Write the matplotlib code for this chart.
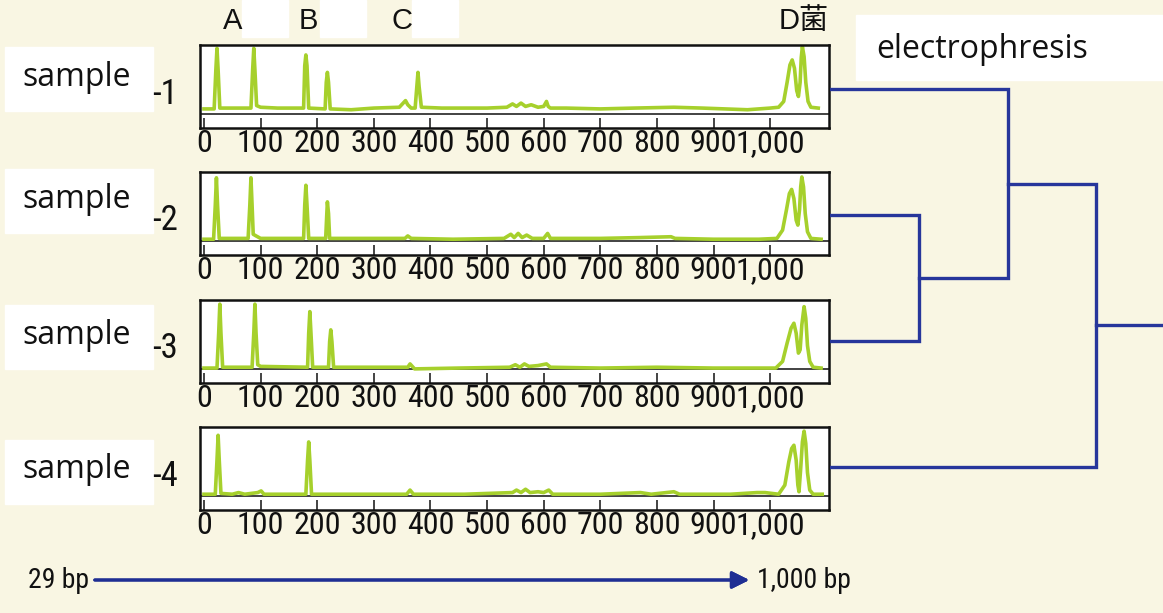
import numpy as np
import matplotlib
matplotlib.use("Agg")
import matplotlib.pyplot as plt
from matplotlib.patches import Rectangle
from matplotlib import font_manager

# electropherogram traces: (size in bp, signal 0..1 of panel height)
sample1_trace = [(0, .23), (18, .23), (21, .7), (23, .96), (25, .7), (28, .24), (60, .24),
                 (83, .24), (86, .7), (88, .96), (90, .7), (93, .27), (100, .25), (130, .24),
                 (176, .24), (178, .75), (180, .88), (182, .75), (185, .24), (214, .23),
                 (216, .55), (218, .67), (220, .55), (223, .23), (260, .22), (300, .24),
                 (345, .25), (356, .33), (360, .28), (366, .24), (373, .24), (376, .5),
                 (378, .67), (380, .5), (384, .25), (420, .24), (500, .24), (535, .25),
                 (545, .29), (552, .26), (560, .30), (568, .26), (578, .28), (590, .25),
                 (600, .26), (605, .32), (608, .26), (612, .24), (640, .24), (700, .23),
                 (760, .24), (830, .25), (880, .24), (960, .22), (1000, .24), (1015, .25),
                 (1024, .32), (1030, .55), (1035, .76), (1039, .82), (1043, .72), (1047, .45),
                 (1050, .38), (1053, .55), (1055, .85), (1057, .98), (1060, .86), (1063, .55),
                 (1067, .32), (1072, .25), (1085, .24)]
sample2_trace = [(0, .19), (17, .19), (20, .6), (22, .93), (24, .6), (27, .2), (78, .2),
                 (81, .6), (83, .93), (85, .6), (87, .25), (92, .23), (100, .2), (176, .2),
                 (178, .6), (180, .84), (182, .6), (185, .2), (215, .2), (217, .5),
                 (218, .64), (220, .5), (222, .2), (300, .2), (355, .2), (360, .23),
                 (366, .2), (440, .19), (530, .2), (542, .25), (548, .21), (555, .26),
                 (562, .21), (570, .24), (580, .2), (600, .2), (607, .26), (612, .2),
                 (700, .2), (770, .21), (825, .22), (832, .2), (900, .19), (980, .19),
                 (1012, .2), (1022, .3), (1029, .55), (1034, .74), (1038, .79), (1042, .68),
                 (1046, .42), (1049, .36), (1052, .55), (1054, .82), (1056, .94), (1059, .82),
                 (1062, .5), (1066, .28), (1072, .2), (1090, .19)]
sample3_trace = [(0, .18), (23, .18), (26, .6), (28, .95), (30, .6), (33, .19), (85, .19),
                 (88, .6), (90, .95), (92, .6), (95, .22), (100, .2), (183, .19), (185, .6),
                 (187, .86), (189, .6), (192, .19), (220, .19), (222, .5), (224, .64),
                 (226, .5), (229, .19), (300, .19), (360, .19), (364, .23), (372, .17),
                 (450, .18), (540, .19), (550, .22), (558, .19), (566, .23), (574, .2),
                 (590, .21), (605, .23), (612, .19), (700, .18), (800, .19), (900, .18),
                 (1010, .18), (1022, .26), (1030, .48), (1037, .66), (1042, .72), (1046, .6),
                 (1050, .36), (1053, .4), (1056, .7), (1060, .92), (1063, .78), (1066, .45),
                 (1070, .26), (1076, .19), (1090, .18)]
sample4_trace = [(0, .19), (20, .19), (23, .6), (25, .9), (27, .6), (30, .2), (50, .19),
                 (61, .21), (72, .19), (95, .21), (101, .23), (106, .19), (180, .19),
                 (183, .6), (185, .82), (187, .6), (190, .19), (300, .19), (358, .19),
                 (364, .24), (370, .19), (460, .19), (545, .21), (552, .24), (560, .21),
                 (568, .25), (576, .21), (590, .22), (600, .21), (609, .24), (616, .19),
                 (700, .19), (771, .21), (790, .19), (830, .22), (840, .19), (930, .19),
                 (977, .21), (991, .21), (1015, .19), (1026, .3), (1033, .58), (1038, .74),
                 (1042, .78), (1046, .6), (1049, .3), (1051, .22), (1054, .5), (1057, .82),
                 (1060, .95), (1063, .8), (1066, .45), (1070, .24), (1076, .19), (1092, .19)]
traces = [sample1_trace, sample2_trace, sample3_trace, sample4_trace]
sample_names = ["-1", "-2", "-3", "-4"]

tick_bp = [0, 100, 200, 300, 400, 500, 600, 700, 800, 900, 1000]
tick_labels = ["0", "100", "200", "300", "400", "500", "600", "700", "800", "900", "1,000"]
header_labels = ["A", "B", "C", "D菌"]

# dendrogram: leaves top to bottom, merges as (left node, right node, height)
merges = [(1, 2, 1.0), (0, 4, 2.0), (3, 5, 3.0)]

W, H = 1163, 613
BG = "#f9f6e3"
GREEN = "#a6d02c"
BLUE = "#27369b"

# pick a condensed face for the numbers if one is installed
installed = {(f.name, f.stretch) for f in font_manager.fontManager.ttflist}
names = {n for n, _ in installed}
narrow = dict(family=["Liberation Sans"])
size_tick, size_name, size_bp = 17, 20, 17
if "Roboto Condensed" in names:
    narrow = dict(family=["Roboto Condensed"])
    size_tick, size_name, size_bp = 23, 25, 20
elif "Liberation Sans Narrow" in names:
    narrow = dict(family=["Liberation Sans Narrow"])
    size_tick, size_name, size_bp = 22, 24, 20


def rect(x0, y0, x1, y1):
    return [x0 / W, 1 - y1 / H, (x1 - x0) / W, (y1 - y0) / H]


fig = plt.figure(figsize=(W / 100, H / 100), dpi=100, facecolor=BG)

panel_tops = [45, 172, 300, 427]
for top, trace, name in zip(panel_tops, traces, sample_names):
    ax = fig.add_axes(rect(200, top, 829, top + 83))
    ax.set_facecolor("white")
    bp, sig = np.array(trace).T
    ax.plot(bp, sig, color=GREEN, lw=2.6, solid_joinstyle="round")
    ax.axhline(0.17, color="#222222", lw=1.2, zorder=0)
    ax.set_xlim(-7, 1104)
    ax.set_ylim(0, 1)
    ax.set_yticks([])
    ax.set_xticks(tick_bp)
    ax.set_xticklabels(tick_labels, color="#111111", fontsize=size_tick, **narrow)
    ax.tick_params(axis="x", direction="in", length=7, width=1.1, pad=1, colors="#111111")
    for s in ax.spines.values():
        s.set_linewidth(1.8)
        s.set_color("#111111")
    fig.text(178 / W, 1 - (top + 49) / H, name, ha="right", va="center",
             color="#111111", fontsize=size_name, **narrow)

# white label boxes
for y0 in [47, 169, 305, 440]:
    fig.patches.append(Rectangle((5 / W, 1 - (y0 + 64) / H), 148 / W, 64 / H,
                                 transform=fig.transFigure, color="white", zorder=1))
    fig.text(77 / W, 1 - (y0 + 30) / H, "sample", ha="center", va="center",
             family="Open Sans", fontsize=23, color="#111111", zorder=2)

for x0 in [242, 320, 412]:
    fig.patches.append(Rectangle((x0 / W, 1 - 37 / H), 46 / W, 37 / H,
                                 transform=fig.transFigure, color="white", zorder=1))
fig.patches.append(Rectangle((856 / W, 1 - 80 / H), 307 / W, 65 / H,
                             transform=fig.transFigure, color="white", zorder=1))
fig.text(876 / W, 1 - 50 / H, "electrophresis", ha="left", va="center",
         family="Open Sans", fontsize=23, color="#111111", zorder=2)

for x, lab in zip([233, 308, 402, 829], header_labels):
    fig.text(x / W, 1 - 21 / H, lab, ha="right" if lab == "D菌" else "center", va="center",
             family=["Liberation Sans", "Noto Sans CJK JP"], fontsize=21, color="#111111")

# dendrogram
dax = fig.add_axes(rect(830, 0, 1163, 613))
dax.set_xlim(0, 3.75)
dax.set_ylim((613 - 89) / 126, -89 / 126)
dax.axis("off")
nodes = {i: (0.0, float(i)) for i in range(4)}
nid = 4
for a, b, h in merges:
    ha, ya = nodes[a]
    hb, yb = nodes[b]
    dax.plot([ha, h, h, hb], [ya, ya, yb, yb], color=BLUE, lw=2.4, solid_joinstyle="miter")
    nodes[nid] = (h, (ya + yb) / 2)
    nid += 1
rh, ry = nodes[nid - 1]
dax.plot([rh, 3.75], [ry, ry], color=BLUE, lw=2.4)

# size arrow
fig.text(28 / W, 1 - 580 / H, "29 bp", ha="left", va="center",
         color="#111111", fontsize=size_bp, **narrow)
fig.text(757 / W, 1 - 580 / H, "1,000 bp", ha="left", va="center",
         color="#111111", fontsize=size_bp, **narrow)
fig.add_artist(plt.annotate("", xy=(752 / W, 1 - 580 / H), xytext=(92 / W, 1 - 580 / H),
                            xycoords="figure fraction", textcoords="figure fraction",
                            arrowprops=dict(arrowstyle="-|>", color="#1f2e93", lw=2.2,
                                            mutation_scale=26)))

fig.savefig("out.png", dpi=100, facecolor=BG)
